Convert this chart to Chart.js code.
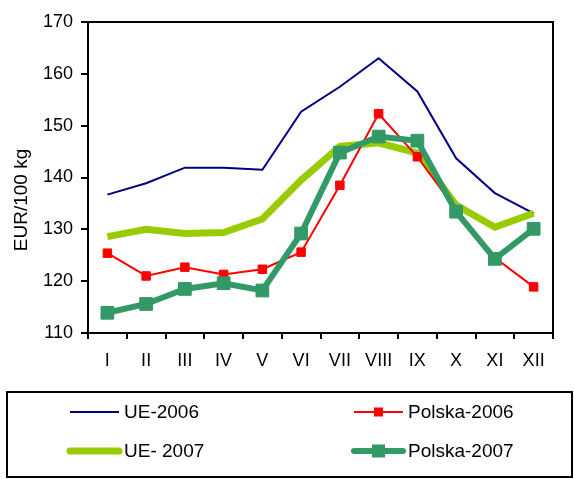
<!DOCTYPE html>
<html>
<head>
<meta charset="utf-8">
<title>Ceny skupu</title>
<script src="https://cdn.jsdelivr.net/npm/chart.js@4"></script>
<style>
  html, body { margin: 0; padding: 0; background: #fff; }
  canvas { display: block; }
</style>
</head>
<body>
<canvas id="priceChart" width="574" height="479"></canvas>
<script>
// monthly prices, EUR/100 kg
const months = ['I', 'II', 'III', 'IV', 'V', 'VI', 'VII', 'VIII', 'IX', 'X', 'XI', 'XII']
const ue2006 = [136.7, 138.9, 141.9, 141.9, 141.5, 152.7, 157.5, 163.0, 156.6, 143.7, 137.0, 133.1]
const polska2006 = [125.4, 121.0, 122.7, 121.3, 122.3, 125.6, 138.5, 152.3, 144.0, 133.8, 124.5, 118.9]
const ue2007 = [128.6, 130.0, 129.2, 129.4, 132.0, 139.5, 146.0, 146.7, 144.7, 134.7, 130.4, 133.1]
const polska2007 = [113.9, 115.6, 118.5, 119.6, 118.2, 129.2, 144.8, 147.9, 147.1, 133.4, 124.3, 130.1]
const yMin = 110
const yMax = 170
const yStep = 10
const yTitle = 'EUR/100 kg'

const FONT = 'Liberation Sans, Arial, sans-serif'

// box around the plot + rotated axis title + boxed legend underneath
const frameAndLegend = {
    id: 'frameAndLegend',
    afterDraw(chart) {
        const ctx = chart.ctx
        const a = chart.chartArea
        ctx.save()

        ctx.strokeStyle = '#000'
        ctx.lineWidth = 2
        ctx.beginPath()
        ctx.moveTo(a.left, a.top)
        ctx.lineTo(a.right, a.top)
        ctx.lineTo(a.right, a.bottom)
        ctx.stroke()

        ctx.fillStyle = '#000'
        ctx.font = '19px ' + FONT
        ctx.textAlign = 'center'
        ctx.textBaseline = 'middle'
        ctx.translate(22, 200)
        ctx.rotate(-Math.PI / 2)
        ctx.fillText(yTitle, 0, 0)
        ctx.setTransform(1, 0, 0, 1, 0, 0)

        ctx.lineWidth = 2
        ctx.strokeRect(7, 392, 565, 85)

        const spots = [
            { x: 70, y: 412 },
            { x: 354, y: 412 },
            { x: 70, y: 451 },
            { x: 354, y: 451 }
        ]
        chart.data.datasets.forEach(function (ds, i) {
            const s = spots[i]
            ctx.strokeStyle = ds.borderColor
            ctx.lineWidth = ds.borderWidth
            ctx.lineCap = ds.borderWidth > 3 ? 'round' : 'butt'
            ctx.beginPath()
            ctx.moveTo(s.x, s.y)
            ctx.lineTo(s.x + 49, s.y)
            ctx.stroke()
            if (ds.legendMark) {
                const m = ds.legendMark
                ctx.fillStyle = ds.borderColor
                ctx.fillRect(s.x + 24.5 - m / 2, s.y - m / 2, m, m)
            }
            ctx.fillStyle = '#000'
            ctx.font = '19px ' + FONT
            ctx.textAlign = 'left'
            ctx.textBaseline = 'middle'
            ctx.fillText(ds.label, s.x + 54, s.y + 1)
        })

        ctx.restore()
    }
}

const data = {
    labels: months,
    datasets: [
        {
            label: 'UE-2006',
            data: ue2006,
            borderColor: '#000080',
            borderWidth: 2,
            pointRadius: 0,
            order: 3
        },
        {
            label: 'Polska-2006',
            data: polska2006,
            borderColor: '#ff0000',
            backgroundColor: '#ff0000',
            borderWidth: 2,
            pointStyle: 'rect',
            pointRadius: 6,
            pointBorderWidth: 1,
            legendMark: 9,
            order: 1
        },
        {
            label: 'UE- 2007',
            data: ue2007,
            borderColor: '#99cc00',
            borderWidth: 7,
            pointRadius: 0,
            order: 2
        },
        {
            label: 'Polska-2007',
            data: polska2007,
            borderColor: '#339966',
            backgroundColor: '#339966',
            borderWidth: 6,
            pointStyle: 'rect',
            pointRadius: 9,
            pointBorderWidth: 1,
            legendMark: 13,
            order: 0
        }
    ]
}

const config = {
    type: 'line',
    data,
    options: {
        responsive: false,
        animation: false,
        layout: {
            padding: { left: 0, top: 22, right: 21, bottom: 106 }
        },
        plugins: {
            legend: { display: false },
            tooltip: { enabled: false }
        },
        elements: {
            line: { tension: 0, fill: false },
            point: { hoverRadius: 0 }
        },
        scales: {
            x: {
                offset: true,
                afterFit(scale) { scale.height = 40 },
                grid: {
                    offset: true,
                    drawOnChartArea: false,
                    drawTicks: true,
                    tickLength: 6,
                    color: '#000',
                    lineWidth: 2
                },
                border: { display: true, color: '#000', width: 2 },
                ticks: {
                    color: '#000',
                    font: { family: FONT, size: 18 },
                    padding: 11,
                    maxRotation: 0,
                    autoSkip: false
                }
            },
            y: {
                min: yMin,
                max: yMax,
                afterFit(scale) { scale.width = 88 },
                grid: {
                    drawOnChartArea: false,
                    drawTicks: true,
                    tickLength: 7,
                    color: '#000',
                    lineWidth: 2
                },
                border: { display: true, color: '#000', width: 2 },
                ticks: {
                    stepSize: yStep,
                    color: '#000',
                    font: { family: FONT, size: 18 },
                    padding: 8
                }
            }
        }
    },
    plugins: [frameAndLegend]
}

const priceChart = new Chart(
    document.getElementById('priceChart'),
    config
)
</script>
</body>
</html>
